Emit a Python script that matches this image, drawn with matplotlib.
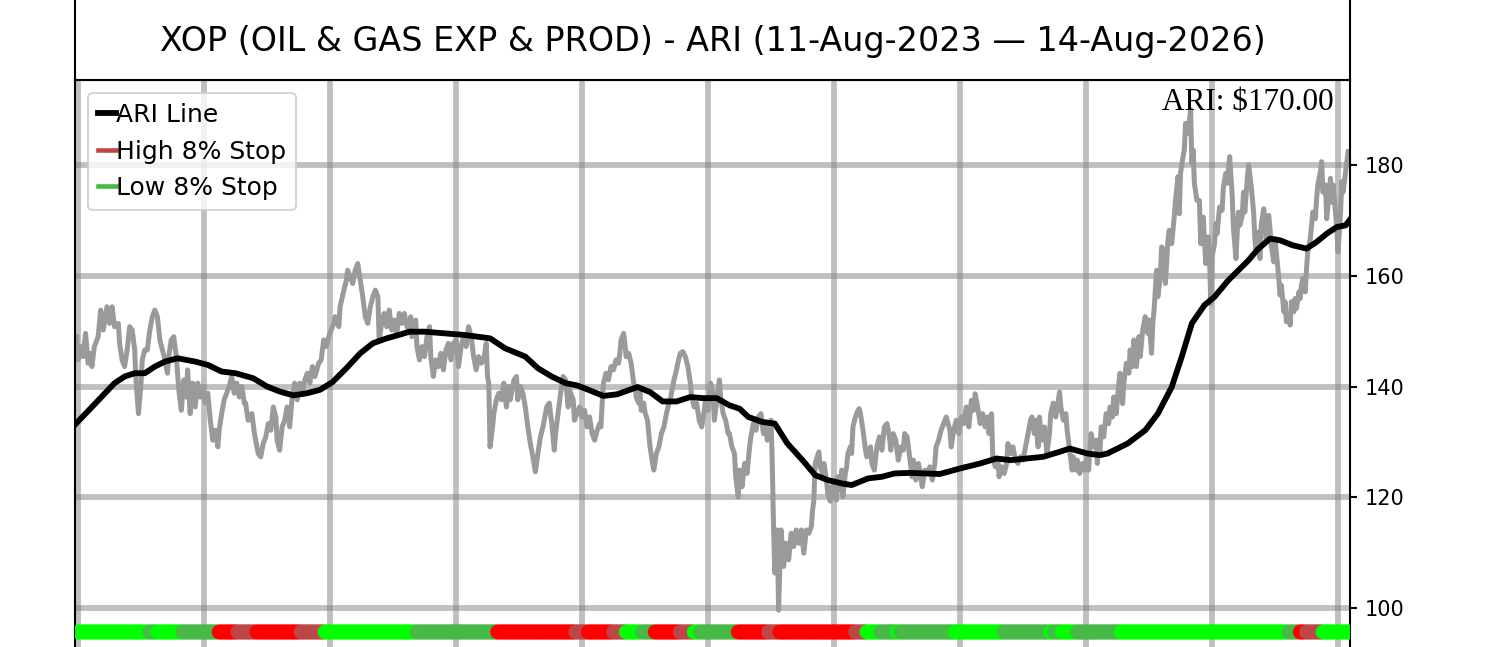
import numpy as np
import matplotlib
matplotlib.use("Agg")
import matplotlib.pyplot as plt
from matplotlib.lines import Line2D

# ---------------- data ----------------
title_text = "XOP (OIL & GAS EXP & PROD) - ARI (11-Aug-2023 \u2014 14-Aug-2026)"
ari_text = r"ARI: \$170.00"
legend_labels = ["ARI Line", "High 8% Stop", "Low 8% Stop"]
y_ticks = [100, 120, 140, 160, 180]
x_ticks = list(range(0, 1001, 100))

price_x = [-1, 0, 2, 4, 6, 8, 10, 11, 13, 16, 18, 20, 23, 25, 27, 29, 32, 33, 35, 37, 39, 41, 43, 45, 46, 48, 50, 51, 53, 55, 57, 59, 61, 63, 65, 67, 69, 71, 72, 74, 76, 78, 80, 82, 84, 86, 87, 89, 91, 93, 95, 97, 99, 101, 103, 105, 107, 109, 111, 112, 114, 116, 118, 120, 122, 124, 126, 128, 130, 132,
           133, 135, 138, 140, 143, 145, 147, 149, 151, 153, 155, 157, 158, 160, 162, 164, 166, 168, 170, 172, 174, 176, 178, 180, 182, 184, 186, 188, 191, 193, 195, 197, 199, 201, 203, 204, 207, 208, 211, 213, 214, 216, 218, 220, 222, 224, 226, 228, 230, 232, 234, 236, 238, 239, 241, 243, 245, 247, 249, 251, 253, 255, 257, 259, 261, 263,
           264, 265, 268, 269, 271, 273, 275, 277, 279, 280, 282, 284, 286, 288, 290, 292, 294, 296, 298, 300, 302, 304, 306, 308, 310, 312, 314, 316, 318, 320, 322, 324, 325, 326, 327, 329, 330, 332, 334, 336, 338, 340, 342, 343, 346, 348, 349, 351, 353, 355, 357, 359, 361, 363, 365, 367, 369, 371, 372, 374, 376, 378, 379, 381, 383, 385, 387, 389, 390, 393, 394,
           396, 398, 400, 402, 404, 406, 408, 410, 412, 414, 415, 416, 417, 419, 421, 423, 425, 427, 429, 430, 431, 433, 434, 435, 437, 439, 441, 442, 443, 445, 446, 447, 449, 450, 452, 454, 456, 457, 459, 461, 463, 465, 467, 469, 470, 471, 473, 475, 476, 478, 480, 482, 484, 486, 487, 489, 491, 493, 495, 497, 498, 500, 502, 504, 505, 507, 509, 510, 512, 514, 516, 517, 519, 521, 522, 524,
           525, 527, 529, 531, 533, 534, 536, 538, 540, 542, 544, 546, 547, 549, 550, 551, 552, 553, 555, 556, 557, 558, 560, 562, 564, 566, 568, 570, 572, 574, 576, 578, 580, 582, 583, 584, 585, 588, 589, 591, 592, 594, 595, 597, 598, 599, 601, 602, 603, 605, 606, 607, 609, 610, 611, 613, 614, 615, 617, 619, 620, 621, 623, 625, 626, 629, 630, 632, 634, 636, 638, 640, 642, 644, 645, 647, 649, 651, 653,
           655, 656, 658, 660, 662, 663, 665, 667, 669, 670, 672, 674, 676, 678, 680, 681, 683, 685, 687, 689, 692, 693, 695, 697, 699, 701, 703, 705, 707, 709, 711, 712, 714, 716, 718, 720, 722, 723, 725, 726, 728, 730, 731, 733, 735, 737, 738, 740, 742, 744, 746, 748, 750, 752, 753, 756, 757, 759, 760, 762, 763, 765, 767, 769, 771, 772, 774, 776, 778, 779, 780, 782, 784, 785, 787, 789, 790, 792, 793, 795, 797, 799, 801, 802, 804, 806, 808,
           809, 810, 811, 812, 814, 816, 818, 819, 821, 822, 824, 826, 827, 829, 830, 832, 834, 835, 837, 838, 840, 842, 843, 845, 847, 849, 850, 852, 853, 854, 855, 856, 857, 859, 860, 862, 863, 865, 866, 868, 870, 871, 873, 874, 875, 877, 878, 879, 881, 883, 884, 885, 886, 888, 890, 891, 893, 894, 895, 897, 898, 899, 900, 902, 903, 904, 906, 908, 909, 911, 912, 914,
           916, 917, 919, 920, 921, 922, 924, 925, 926, 928, 929, 930, 931, 933, 934, 935, 937, 938, 939, 941, 942, 943, 945, 946, 947, 949, 950, 951, 953, 954, 955, 957, 958, 959, 961, 962, 963, 965, 966, 967, 969, 970, 971, 972, 974, 975, 976, 978, 979, 980, 982, 983, 984, 986, 987, 988, 990, 991, 992, 994, 995, 996, 998, 999, 1000, 1002, 1003, 1004, 1006, 1007, 1008]

price_y = [149.0, 144.8, 147.2, 145.4, 149.6, 144.2, 146.0, 143.6, 147.2, 149.0, 153.8, 150.2, 154.4, 151.4, 154.4, 150.8, 151.4, 147.8, 144.8, 143.6, 146.6, 150.8, 150.2, 146.6, 141.2, 135.1, 140.6, 144.8, 146.6, 146.6, 150.2, 152.6, 153.8, 152.6, 148.4, 146.6, 144.8, 142.4, 145.4, 148.4, 149.0, 145.4, 139.4, 135.7, 141.2, 138.1, 143.0, 135.1, 140.6, 136.3, 140.6, 138.1, 140.0, 137.0, 138.8, 133.9, 130.3, 132.1, 129.1, 132.1, 135.1, 137.6, 138.8, 140.0, 141.8, 138.8, 140.6, 138.1, 140.0, 137.0,
           137.0, 133.9, 135.1, 131.5, 127.9, 127.3, 129.7, 130.9, 133.3, 132.1, 136.3, 134.5, 130.3, 128.5, 132.7, 133.9, 136.3, 132.7, 138.1, 140.6, 137.6, 140.6, 138.8, 141.2, 142.4, 140.6, 143.6, 141.8, 144.2, 144.8, 148.4, 147.2, 149.0, 150.2, 151.4, 152.6, 150.8, 154.4, 157.4, 159.2, 161.0, 159.8, 158.6, 161.0, 162.2, 159.2, 156.2, 152.6, 151.4, 154.4, 156.2, 157.4, 156.2, 148.4, 151.4, 153.2, 150.8, 153.8, 150.2, 152.0, 149.6, 153.2, 151.4, 153.2, 150.8, 150.2,
           152.6, 149.0, 152.0, 147.2, 144.8, 147.2, 145.4, 149.0, 150.8, 145.4, 141.8, 144.8, 143.6, 146.0, 143.0, 146.6, 147.8, 144.8, 147.8, 148.4, 143.6, 147.2, 149.0, 147.2, 150.8, 149.0, 145.4, 143.0, 145.4, 144.2, 144.8, 147.8, 141.8, 140.6, 129.1, 132.7, 135.1, 137.6, 138.8, 137.6, 140.6, 136.3, 140.0, 137.6, 141.2, 141.8, 137.6, 140.0, 138.8, 136.3, 132.7, 129.7, 127.3, 124.6, 127.9, 130.9, 132.7, 135.1, 136.3, 137.0, 133.3, 128.5, 131.5, 135.1, 138.8, 141.8, 141.2, 136.3, 139.4, 137.6, 133.9,
           135.1, 136.3, 134.5, 135.7, 132.7, 134.5, 131.5, 130.3, 132.1, 133.3, 132.7, 137.0, 140.6, 142.4, 141.2, 143.6, 143.0, 144.8, 144.2, 146.0, 148.4, 149.6, 147.8, 145.4, 146.0, 144.2, 140.6, 140.0, 138.1, 137.0, 138.8, 135.7, 137.0, 135.3, 133.9, 129.1, 126.1, 124.9, 127.9, 129.1, 131.5, 132.7, 135.1, 137.0, 137.6, 138.8, 141.2, 143.0, 144.2, 146.0, 146.3, 145.4, 143.6, 140.6, 138.1, 136.3, 137.0, 133.9, 132.7, 135.7, 137.6, 135.7, 140.6, 138.8, 133.9, 137.6, 141.2, 138.1, 135.1, 133.9, 131.5, 131.5, 129.1, 127.9, 123.7, 120.0,
           124.9, 121.9, 126.1, 124.3, 129.1, 130.9, 133.3, 132.1, 134.5, 135.1, 131.5, 133.3, 130.3, 132.7, 133.9, 126.1, 114.7, 106.3, 114.1, 99.6, 107.5, 114.1, 107.5, 111.7, 108.7, 113.5, 111.1, 114.1, 111.7, 114.1, 109.9, 114.1, 113.5, 114.7, 117.7, 119.5, 126.1, 128.2, 125.5, 124.3, 126.1, 123.1, 120.7, 119.3, 121.9, 120.1, 123.1, 119.5, 123.7, 121.3, 124.9, 120.1, 124.3, 125.5, 127.9, 129.1, 127.9, 132.7, 134.5, 135.7, 136.0, 135.1, 132.1, 128.5, 127.3, 129.1, 126.1, 124.9, 129.1, 130.9, 128.5, 132.7, 133.3, 130.9, 128.5, 131.5, 130.3, 126.7, 129.1,
           128.5, 131.5, 130.9, 127.3, 123.7, 126.7, 123.1, 126.1, 123.7, 121.9, 124.9, 124.3, 125.5, 123.1, 126.1, 129.1, 130.3, 132.1, 133.3, 134.5, 132.1, 129.1, 132.1, 133.9, 131.5, 134.5, 133.3, 136.3, 132.7, 137.5, 135.7, 138.7, 136.3, 133.3, 135.1, 132.7, 134.5, 131.5, 135.1, 127.3, 125.5, 126.7, 123.7, 125.5, 124.3, 126.1, 129.7, 127.9, 129.1, 126.7, 126.1, 127.3, 126.7, 129.1, 130.3, 133.9, 134.5, 131.5, 133.9, 129.1, 134.5, 130.3, 132.7, 127.9, 131.5, 135.1, 137.0, 134.5, 137.5, 139.0, 136.3, 133.9, 135.1, 132.1, 128.5, 124.9, 127.3, 124.9, 126.7, 124.3, 126.1, 124.9, 127.3, 124.9, 131.5, 129.1, 130.3,
           126.1, 130.3, 127.9, 132.7, 130.9, 135.1, 133.3, 136.3, 134.5, 138.1, 135.1, 140.6, 142.4, 136.9, 140.6, 144.2, 142.4, 146.6, 143.6, 148.4, 143.6, 149.0, 145.4, 150.2, 152.6, 149.6, 152.0, 146.0, 151.4, 153.8, 157.4, 161.0, 156.2, 159.8, 165.2, 164.6, 158.6, 166.4, 168.2, 165.8, 170.6, 173.6, 177.9, 171.2, 178.5, 181.5, 182.7, 187.5, 185.7, 190.0, 180.3, 182.7, 176.7, 173.6, 173.6, 165.8, 170.6, 166.4, 162.2, 167.0, 163.4, 155.0, 163.4, 165.8, 169.4, 167.6, 172.4, 171.8, 176.0, 178.5, 176.7, 181.5,
           174.5, 168.5, 163.1, 167.9, 171.5, 169.1, 170.9, 175.1, 171.5, 177.6, 180.0, 178.2, 176.4, 171.5, 166.7, 164.3, 167.9, 163.1, 169.1, 172.1, 170.3, 166.7, 170.9, 168.5, 165.5, 162.5, 166.7, 164.3, 159.5, 156.5, 158.3, 153.5, 155.3, 151.7, 152.9, 151.1, 155.3, 153.5, 155.9, 154.1, 157.1, 155.9, 158.3, 159.5, 157.1, 161.3, 164.3, 166.7, 169.1, 171.5, 170.3, 174.0, 176.4, 178.8, 180.6, 175.1, 176.4, 170.3, 172.7, 177.6, 173.3, 176.4, 171.5, 168.5, 164.3, 171.5, 177.0, 175.1, 178.8, 180.6, 182.4]

ari_x = [-2, 14, 29, 37, 45, 53, 61, 69, 79, 93, 103, 114, 125, 139, 150, 160, 171, 182, 192, 202, 213, 224, 234, 245, 256, 263, 275, 291, 307, 327, 339, 355, 365, 376, 387, 396, 404, 417, 428, 444, 454, 464, 475, 486, 496, 507, 517, 525, 532, 543, 553, 563, 575, 585, 595, 606, 614, 627, 638, 648, 660, 684, 700, 716, 729, 740, 753, 766, 779, 787, 801, 811, 817, 833, 847, 857, 868, 876, 884, 894, 902, 913, 921, 929, 936, 946, 954, 964, 975, 983, 991, 999, 1006, 1009]
ari_y = [133.2, 137.0, 140.6, 141.8, 142.4, 142.4, 143.6, 144.5, 145.1, 144.5, 143.9, 142.7, 142.4, 141.5, 140.0, 139.1, 138.4, 138.8, 139.4, 140.8, 143.3, 146.0, 147.8, 148.7, 149.4, 149.9, 149.9, 149.6, 149.3, 148.7, 146.9, 145.4, 143.3, 141.8, 140.6, 140.2, 139.5, 138.3, 138.6, 139.9, 139.0, 137.3, 137.3, 138.1, 137.9, 137.9, 136.6, 136.0, 134.5, 133.6, 133.3, 129.7, 126.7, 124.0, 123.1, 122.5, 122.2, 123.4, 123.7, 124.3, 124.4, 124.2, 125.2, 126.1, 127.0, 126.7, 127.0, 127.3, 128.2, 128.8, 127.9, 127.6, 127.9, 129.7, 132.1, 135.1, 139.9, 145.4, 151.4, 154.7, 156.2, 159.2, 161.0, 162.8, 164.7, 166.7, 166.4, 165.5, 164.9, 166.1, 167.6, 168.8, 169.1, 170.0]

# stop-state strip: bar index where each state begins, and the state
stop_start = [0, 57, 63, 83, 112, 127, 142, 177, 196, 269, 333, 395, 405, 425, 435, 448, 458, 478, 489, 494, 524, 548, 557, 617, 626, 637, 650, 653, 696, 735, 772, 775, 781, 793, 828, 961, 970, 975, 988]
stop_state = ["G", "g", "G", "g", "R", "r", "R", "r", "G", "g", "R", "r", "R", "r", "G", "g", "R", "r", "G", "g", "R", "r", "R", "r", "G", "g", "G", "g", "G", "g", "G", "g", "G", "g", "G", "g", "R", "r", "G"]
stop_end = 1010
strip_level = 95.67

state_colors = {"G": "#00ff00", "g": "#46b946", "R": "#ff0000", "r": "#bf4646"}

# ---------------- figure ----------------
W, H = 1500, 647
fig = plt.figure(figsize=(W / 150, H / 150), dpi=150)

ax = fig.add_axes([75 / W, (H - 660) / H, 1275 / W, 580 / H])
ax.set_xlim(-2.38, 1009.5)
ax.set_ylim(90.61, 195.35)

ax.set_xticks(x_ticks)
ax.set_yticks(y_ticks)
ax.grid(True, color="gray", alpha=0.5, linewidth=2.8)
ax.set_axisbelow(True)

ax.plot(price_x, price_y, color="#9a9a9a", linewidth=2.4, zorder=2)
ax.plot(ari_x, ari_y, color="black", linewidth=2.8, zorder=3)

bars = np.arange(0, stop_end)
idx = np.searchsorted(stop_start, bars, side="right") - 1
cols = [state_colors[stop_state[i]] for i in idx]
ax.scatter(bars, np.full(len(bars), strip_level), c=cols, s=50, linewidths=0, zorder=4)

ax.yaxis.tick_right()
ax.tick_params(axis="y", labelsize=10, width=1.0, length=3.5)
ax.tick_params(axis="x", labelbottom=False)
for s in ax.spines.values():
    s.set_linewidth(1.0)
    s.set_color("black")

ax.text(0.9875, 0.948, ari_text, transform=ax.transAxes, ha="right", va="baseline",
        fontsize=15, family="Liberation Serif")

handles = [Line2D([], [], color="black", lw=2.8),
           Line2D([], [], color="#bf4646", lw=2.2),
           Line2D([], [], color="#46b946", lw=2.2)]
ax.legend(handles, legend_labels, loc="upper left", fontsize=12,
          handlelength=0.7, handletextpad=0.0, borderaxespad=0.52)

# title box
tax = fig.add_axes([75 / W, (H - 80) / H, 1275 / W, 100 / H])
tax.set_xticks([])
tax.set_yticks([])
for s in tax.spines.values():
    s.set_linewidth(1.0)
    s.set_color("black")
tax.text(0.5, 0.39, title_text, ha="center", va="center", fontsize=16, transform=tax.transAxes)

fig.savefig("out.png", dpi=150)
